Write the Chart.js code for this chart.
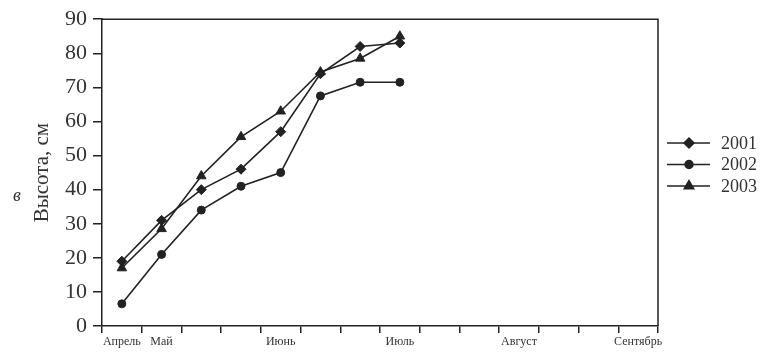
<!DOCTYPE html>
<html>
<head>
<meta charset="utf-8">
<script src="https://cdn.jsdelivr.net/npm/chart.js@4"></script>
<style>
  html, body { margin: 0; padding: 0; background: #fff; }
  #wrap { width: 766px; height: 361px; }
</style>
</head>
<body>
<div id="wrap"><canvas id="heightChart"></canvas></div>
<script>
// Half-month periods, April to September
const months = ["Апрель", "Май", "", "", "Июнь", "", "", "Июль", "", "", "Август", "", "", "Сентябрь"];
const years = ["2001", "2002", "2003"];

// Plant height, cm
const h2001 = [19, 31, 40, 46, 57, 74, 82, 83];
const h2002 = [6.5, 21, 34, 41, 45, 67.5, 71.5, 71.5];
const h2003 = [17, 28.5, 44, 55.5, 63, 74.5, 78.5, 85];

const ink = "#222";
const serif = "'Liberation Serif', 'DejaVu Serif', serif";

// Box around the plot and legend on the right
const framePlugin = {
  id: "frame",
  afterDraw(chart) {
    const ctx = chart.ctx;
    const a = chart.chartArea;
    ctx.save();
    ctx.strokeStyle = ink;
    ctx.lineWidth = 1.5;
    ctx.beginPath();
    ctx.moveTo(a.left, a.top);
    ctx.lineTo(a.right, a.top);
    ctx.lineTo(a.right, a.bottom);
    ctx.stroke();

    // panel letter
    ctx.fillStyle = "#333";
    ctx.font = "italic 18px " + serif;
    ctx.textAlign = "center";
    ctx.textBaseline = "middle";
    ctx.fillText("в", 17, 196);

    // legend: line with marker, then year
    chart.data.datasets.forEach((ds, i) => {
      const y = 143 + i * 21.5;
      ctx.strokeStyle = ink;
      ctx.lineWidth = 1.5;
      ctx.beginPath();
      ctx.moveTo(667, y);
      ctx.lineTo(710, y);
      ctx.stroke();
      ctx.fillStyle = ink;
      Chart.helpers.drawPoint(ctx, {
        pointStyle: ds.pointStyle,
        radius: ds.pointRadius,
        borderWidth: 1
      }, 689, y);
      ctx.fillStyle = "#333";
      ctx.font = "18px " + serif;
      ctx.textAlign = "left";
      ctx.fillText(ds.label, 721, y + 1);
    });
    ctx.restore();
  }
};

new Chart(document.getElementById("heightChart"), {
  type: "line",
  data: {
    labels: months,
    datasets: [
      { label: years[0], data: h2001, pointStyle: "rectRot", pointRadius: 5 },
      { label: years[1], data: h2002, pointStyle: "circle", pointRadius: 4 },
      { label: years[2], data: h2003, pointStyle: "triangle", pointRadius: 5.5 }
    ].map(ds => Object.assign(ds, {
      borderColor: ink,
      backgroundColor: ink,
      pointBackgroundColor: ink,
      pointBorderColor: ink,
      borderWidth: 1.6,
      pointBorderWidth: 1,
      tension: 0
    }))
  },
  options: {
    responsive: true,
    maintainAspectRatio: false,
    animation: false,
    layout: { padding: { top: 16, right: 108, left: 0, bottom: 0 } },
    plugins: {
      legend: { display: false },
      tooltip: { enabled: false }
    },
    scales: {
      x: {
        offset: true,
        grid: {
          offset: true,
          drawOnChartArea: false,
          drawTicks: true,
          tickLength: 7,
          color: ink,
          lineWidth: 1.5
        },
        border: { display: true, color: ink, width: 1.5 },
        ticks: {
          autoSkip: false,
          maxRotation: 0,
          padding: 2,
          color: "#333",
          font: { family: serif, size: 12 }
        },
        afterFit(scale) { scale.height = 35; }
      },
      y: {
        min: 0,
        max: 90,
        ticks: {
          stepSize: 10,
          padding: 6,
          color: "#333",
          font: { family: serif, size: 22 }
        },
        grid: {
          drawOnChartArea: false,
          drawTicks: true,
          tickLength: 9,
          color: ink,
          lineWidth: 1.5
        },
        border: { display: true, color: ink, width: 1.5 },
        title: {
          display: true,
          text: "Высота, см",
          color: "#333",
          padding: { top: 30, bottom: 2 },
          font: { family: serif, size: 21 }
        },
        afterFit(scale) { scale.width = 102; }
      }
    }
  },
  plugins: [framePlugin]
});
</script>
</body>
</html>
